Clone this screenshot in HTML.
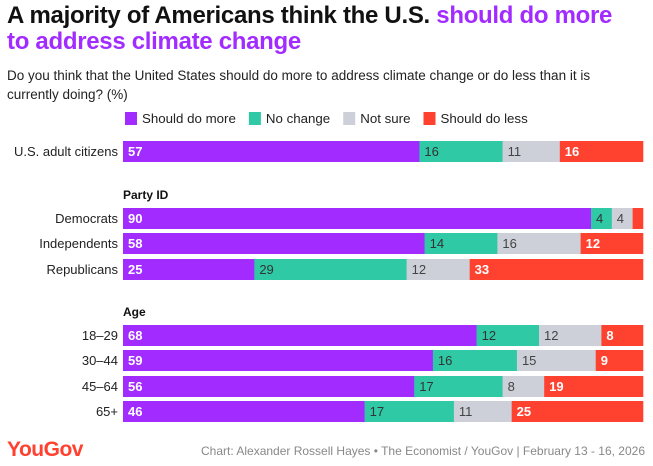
<!DOCTYPE html>
<html><head><meta charset="utf-8"><style>
body{margin:0;width:653px;height:466px;background:#fff;font-family:"Liberation Sans",sans-serif;overflow:hidden;position:relative}
.t{position:absolute;white-space:nowrap}
</style></head><body>
<div class="t" style="left:7px;top:3px;font-size:24px;font-weight:bold;line-height:26px;letter-spacing:-0.3px;color:#111">A majority of Americans think the U.S. <span style="color:#a22cff">should do more</span><br><span style="color:#a22cff">to address climate change</span></div>
<div class="t" style="left:7px;top:66px;font-size:13.5px;line-height:19px;color:#222">Do you think that the United States should do more to address climate change or do less than it is<br>currently doing? (%)</div>
<svg id="c" width="653" height="466" style="position:absolute;left:0;top:0"></svg>
<div class="t" style="left:7px;top:438px;font-size:21px;font-weight:bold;color:#ff4130;letter-spacing:-0.5px">YouGov</div>
<div class="t" style="right:8px;top:444px;font-size:12px;color:#888">Chart: Alexander Rossell Hayes • The Economist / YouGov | February 13 - 16, 2026</div>
<script>
const categories=["U.S. adult citizens","Democrats","Independents","Republicans","18–29","30–44","45–64","65+"];
const rowTops=[141,208,233,259,325,350,376,401];
const seriesNames=["Should do more","No change","Not sure","Should do less"];
const moreVals=[57,90,58,25,68,59,56,46];
const noChangeVals=[16,4,14,29,12,16,17,17];
const notSureVals=[11,4,16,12,12,15,8,11];
const lessVals=[16,2,12,33,8,9,19,25];
const colors=["#a22cff","#2fc9a6","#cdd0d8","#ff4130"];
const textColors=["#fff","#333","#444","#fff"];
const ns="http://www.w3.org/2000/svg",svg=document.getElementById('c');
const X0=123,W=520,H=21;
function el(t,a,txt){const e=document.createElementNS(ns,t);for(const k in a)e.setAttribute(k,a[k]);if(txt!=null)e.textContent=txt;svg.appendChild(e);return e;}
let lx=125;
seriesNames.forEach((n,i)=>{
 const r=el('rect',{x:lx,y:112,width:12,height:13,fill:colors[i]});
 
 
 const t=el('text',{x:lx+17,y:123,'font-size':13.3,fill:'#222'},n);
 
 
 lx+=17+t.getComputedTextLength()+13;
});
[["Party ID",199],["Age",316]].forEach(([s,y])=>{
 const t=el('text',{x:123,y:y,'font-size':12,'font-weight':'bold',fill:'#111'},s);
 
 
});
const series=[moreVals,noChangeVals,notSureVals,lessVals];
categories.forEach((c,i)=>{
 const y=rowTops[i];
 const lab=el('text',{x:118,y:y+15,'font-size':13,fill:'#222','text-anchor':'end'},c);
 
 
 const tot=series.reduce((s,a)=>s+a[i],0);
 let x=X0;
 series.forEach((a,j)=>{
  const w=a[i]/tot*W;
  const r=el('rect',{x:x,y:y,width:w+0.3,height:H,fill:colors[j]});
  
  
  if(w>12){
   const t=el('text',{x:x+5,y:y+15,'font-size':13,fill:textColors[j],'font-weight':(j==0||j==3)?'bold':'normal'},a[i]);
   
   
  }
  x+=w;
 });
});
</script>
</body></html>
